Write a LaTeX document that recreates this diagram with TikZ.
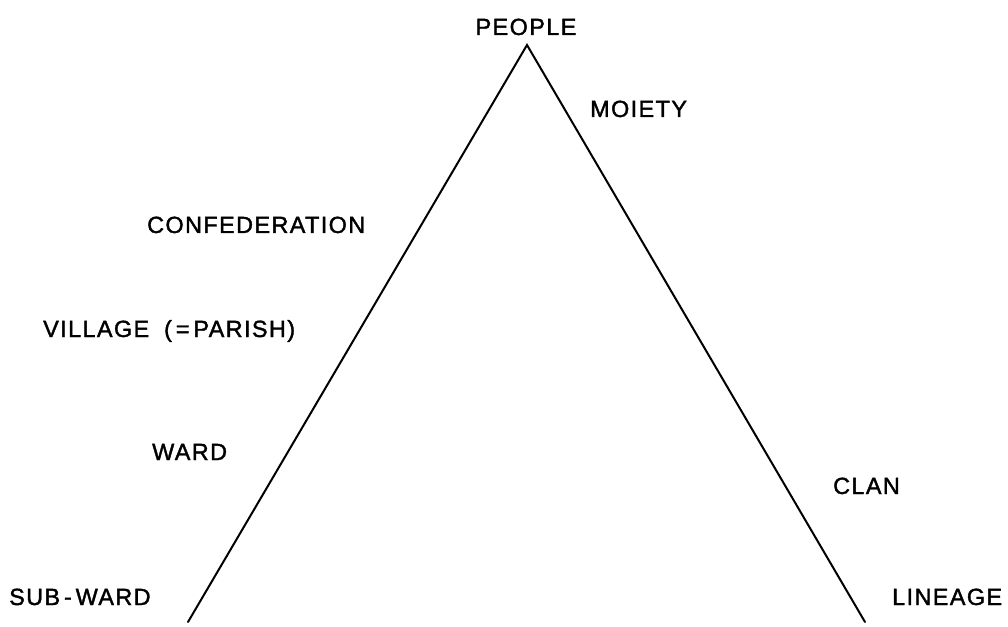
\documentclass[tikz,border=0pt]{standalone}
\usepackage{fontspec}
\setmainfont[LetterSpace=6,FakeBold=1.6]{Liberation Sans}
\begin{document}
\begin{tikzpicture}[x=1bp,y=-1bp,
  lbl/.style={inner sep=0pt,font=\fontsize{23.5}{28}\selectfont,anchor=base west},
  edge/.style={line width=2bp,line cap=round,line join=miter}]
\useasboundingbox (0,0) rectangle (1008,627);
\coordinate (apex) at (527,45);
\coordinate (lbase) at (188,622);
\coordinate (rbase) at (865,622);
\draw[edge] (lbase) -- (apex) -- (rbase);
\node[lbl,anchor=base] (people) at (526,35) {PEOPLE};
\node[lbl] (moiety) at (590,117) {MOIETY};
\node[lbl] (confed) at (147,233) {CONFEDERATION};
\node[lbl] (village) at (43,337) {VILLAGE\hspace{0.3em} (\,=\,PARISH)};
\node[lbl] (ward) at (152,460) {WARD};
\node[lbl] (clan) at (833,494) {CLAN};
\node[lbl] (subward) at (9,605) {SUB\,-\,WARD};
\node[lbl] (lineage) at (892,605) {LINEAGE};
\end{tikzpicture}
\end{document}
